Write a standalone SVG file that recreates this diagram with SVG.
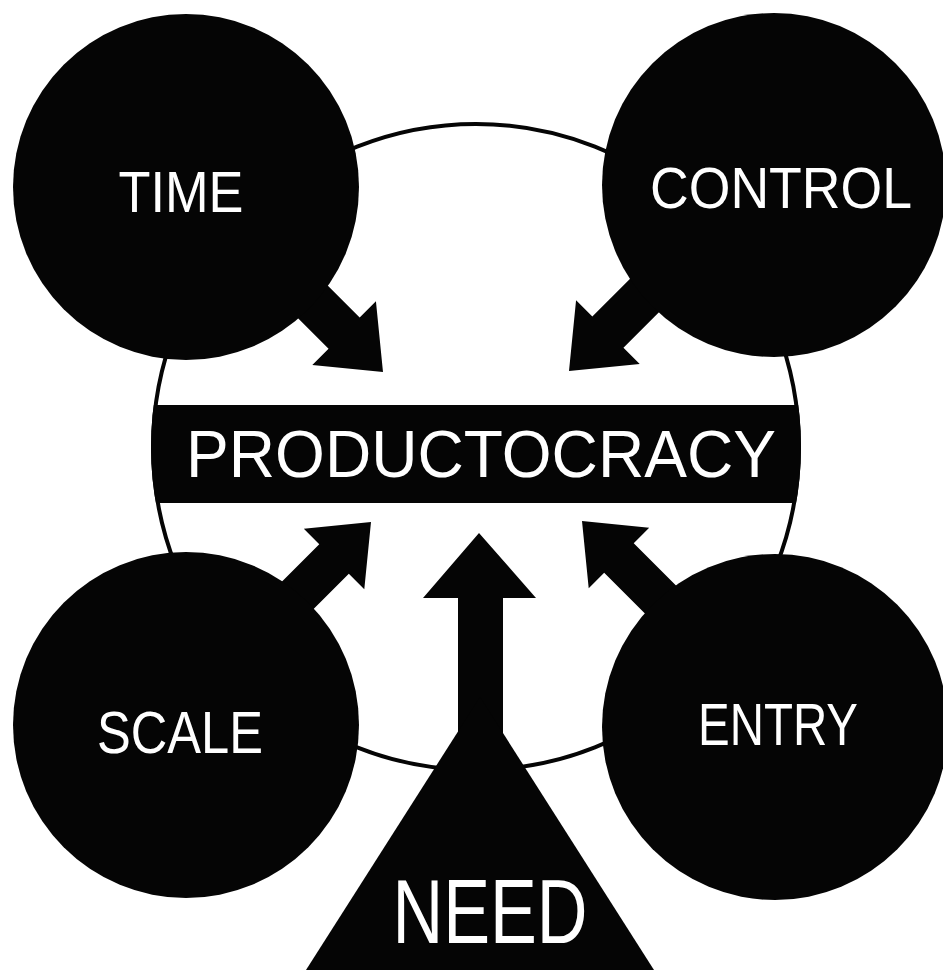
<svg xmlns="http://www.w3.org/2000/svg" width="943" height="971" viewBox="0 0 943 971">
<defs>
<style>
.node{fill:#050505}
.lbl{fill:#ffffff;font-family:"Liberation Sans",Arial,sans-serif;text-anchor:middle}
.arrow{fill:#050505}
</style>
<clipPath id="hub-clip"><circle cx="476" cy="447" r="325"/></clipPath>
<polygon id="arr" points="0,0 -55,-45 -55,-22 -160,-22 -160,22 -55,22 -55,45"/>
</defs>
<rect width="943" height="971" fill="#ffffff"/>
<g id="hub">
<circle cx="476" cy="447" r="323" fill="#ffffff" stroke="#050505" stroke-width="4"/>
<rect x="140" y="405" width="680" height="98" fill="#050505" clip-path="url(#hub-clip)"/>
<text class="lbl" x="481" y="477" font-size="66" textLength="590" lengthAdjust="spacingAndGlyphs">PRODUCTOCRACY</text>
</g>
<g id="connectors">
<use href="#arr" class="arrow" transform="translate(383,372) rotate(45)"/>
<use href="#arr" class="arrow" transform="translate(569,371) rotate(135)"/>
<use href="#arr" class="arrow" transform="translate(371,522) rotate(-45) scale(0.95)"/>
<use href="#arr" class="arrow" transform="translate(582,521) rotate(-135) scale(0.95)"/>
<polygon class="arrow" points="479,533 536,598 503,598 503,760 458,760 458,598 423,598"/>
</g>
<g id="time">
<circle class="node" cx="186" cy="187" r="173"/>
<text class="lbl" x="181" y="212" font-size="58" textLength="125" lengthAdjust="spacingAndGlyphs">TIME</text>
</g>
<g id="control">
<circle class="node" cx="774" cy="185" r="172"/>
<text class="lbl" x="781" y="208" font-size="57" textLength="262" lengthAdjust="spacingAndGlyphs">CONTROL</text>
</g>
<g id="scale">
<circle class="node" cx="186" cy="725" r="173"/>
<text class="lbl" x="180" y="753" font-size="60" textLength="166" lengthAdjust="spacingAndGlyphs">SCALE</text>
</g>
<g id="entry">
<circle class="node" cx="775" cy="727" r="173"/>
<text class="lbl" x="778" y="745" font-size="60" textLength="160" lengthAdjust="spacingAndGlyphs">ENTRY</text>
</g>
<g id="need">
<polygon class="node" points="480,697 306,970 654,970"/>
<text class="lbl" x="490" y="943" font-size="90" textLength="195" lengthAdjust="spacingAndGlyphs">NEED</text>
</g>
</svg>
